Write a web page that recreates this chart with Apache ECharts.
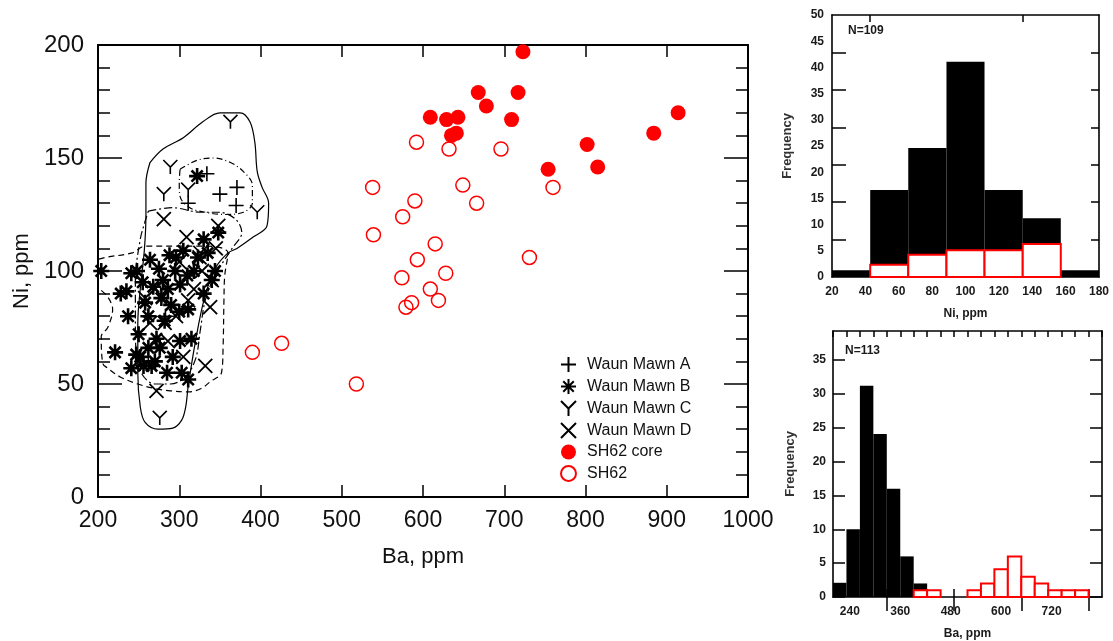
<!DOCTYPE html>
<html><head><meta charset="utf-8">
<script src="https://cdn.jsdelivr.net/npm/echarts@6/dist/echarts.min.js"></script>
<style>html,body{margin:0;padding:0;background:#fff}#c{width:1113px;height:641px}</style>
</head><body><div id="c"></div>
<script>
// ---------- scatter data (Ba ppm, Ni ppm) ----------
const waunMawnA = [[371,137],[370,129],[350,134],[311,130],[334,143],[283,80],[262,60]];
const waunMawnB = [[204,100],[241,99],[235,91],[237,80],[221,64],[247,63],[256,58],[241,57],[266,58],[272,70],[301,69],[303,55],[276,66],[288,107],[264,105],[268,93],[286,92],[301,94],[258,86],[311,83],[340,96],[344,100],[323,106],[322,142],[348,117],[330,114],[282,78],[311,52],[250,72],[262,66],[280,96],[295,100],[310,98],[275,101],[290,85],[255,95],[262,80],[300,82],[330,90],[318,100],[270,60],[292,62],[285,55],[248,100],[228,90],[335,108],[305,109],[278,88],[296,106],[252,62],[315,70]];
const waunMawnC = [[363,166],[289,146],[281,134],[311,136],[396,126],[326,108],[276,35]];
const waunMawnD = [[281,123],[309,115],[348,120],[264,77],[332,58],[272,47],[338,84],[282,77],[311,87],[286,69],[340,96],[328,100],[300,104],[318,92],[258,88],[296,80],[325,106],[305,62],[270,92],[345,110]];
const sh62Core = [[723,197],[668,179],[678,173],[717,179],[609,168],[629,167],[643,168],[635,160],[641,161],[709,167],[802,156],[754,145],[815,146],[884,161],[914,170]];
const sh62 = [[592,157],[632,154],[696,154],[538,137],[649,138],[760,137],[590,131],[666,130],[575,124],[539,116],[615,112],[593,105],[731,106],[574,97],[628,99],[609,92],[586,86],[619,87],[579,84],[518,50],[390,64],[426,68]];

// ---------- envelope outlines (Ba ppm, Ni ppm) ----------
const envelopeC = [[264,148],[280,154],[305,159],[329,166],[350,170],[375,170],[387,166],[393,157],[396,144],[402,137],[410,130],[408,120],[391,115],[371,110],[360,108],[344,101],[331,88],[320,69],[311,49],[308,40],[303,34],[292,30.5],[274,30],[258,33],[252,40],[249,55],[249,77],[252,92],[257,109],[259,125],[259,139],[264,148]];
const envelopeA = [[301,145],[322,149],[342,150],[363,148],[379,144],[390,138],[390,130],[379,126],[356,125],[332,126],[313,128],[301,133],[300,139],[301,145]];
const envelopeB = [[189,104],[209,106],[242,108],[258,111],[300,111],[335,111],[360,108],[356,98],[355,87],[354,67],[352,55],[338,51],[327,48],[311,46.5],[289,47],[270,48],[249,50],[228,53],[212,57],[206,59],[204,71],[212,75],[218,83],[212,88.5],[197,94],[193,98],[189,104]];
const envelopeD = [[262,126.5],[292,128],[326,126],[348,126],[369,123],[377,117],[365,110],[344,98],[332,87],[326,74],[320,61],[307,53],[289,50],[270,50],[252,56],[246,74],[246,96],[252,114],[258,122],[262,126.5]];

// ---------- histogram data ----------
const niBinEdges = [20, 42.9, 65.7, 88.6, 111.4, 134.3, 157.1, 180];
const niAllCounts = [1.3, 16.6, 24.6, 41.1, 16.6, 11.2, 1.3];
const niSH62Counts = [0, 2.35, 4.25, 5.1, 5.1, 6.3, 0];
const baBinEdges = [200,232,264,296,328,360,392,424,456,488,520,552,584,616,648,680,712,744,776,808,840];
const baAllCounts = [2.1,10,31.2,24.1,16,6,2,0,0,0,0,0,0,0,0,0,0,0,0,0];
const baSH62Counts = [0,0,0,0,0,0,1,1,0,0,1,2,4.1,6,3,2,1,1,1,0];

// ---------- tick labels ----------
const niFreqLabels = [0,5,10,15,20,25,30,35,40,45,50];
const niFreqTicks = [7.14,14.29,21.43,28.57,35.71,42.86];
const niLabels = [20,40,60,80,100,120,140,160,180];
const niTopTicks = [42.9,134.3];
const baFreqLabels = [0,5,10,15,20,25,30,35];
const baLabels = [240,360,480,600,720];
const baMajorTicks = [328,488,648,808];

const FONT = 'Liberation Sans';
const smallLbl = {fontSize:12, fontWeight:'bold', color:'#1a1a1a', fontFamily:FONT};
const plain = v => String(v);

function histData(edges, counts){ return counts.map((c,i)=>[edges[i], edges[i+1], c]); }
function barRender(fill, stroke, lw){
  return function(params, api){
    if (api.value(2) <= 0) return null;
    const a = api.coord([api.value(0), 0]);
    const b = api.coord([api.value(1), api.value(2)]);
    return {type:'rect', shape:{x:a[0], y:b[1], width:b[0]-a[0], height:a[1]-b[1]},
            style:{fill:fill, stroke:stroke, lineWidth:lw}};
  };
}
const frameLine = {show:true, onZero:false, lineStyle:{color:'#000', width:2}};
const hFrame = {show:true, onZero:false, lineStyle:{color:'#000', width:1.6}};

const SYM_PLUS = 'path://M5,0L5,10M0,5L10,5';
const SYM_AST = 'path://M5,0L5,10M0,5L10,5M1.5,1.5L8.5,8.5M8.5,1.5L1.5,8.5';
const SYM_Y = 'path://M0,0L5,5L10,0M5,5L5,10';
const SYM_X = 'path://M0,0L10,10M10,0L0,10';
const NOFILL = 'rgba(255,255,255,0)';

function env(data, type){
  return {type:'line', xAxisIndex:0, yAxisIndex:0, data:data, symbol:'none', smooth:0.35, clip:false, silent:true,
          lineStyle:{color:'#000', width:1.2, type:type}, z:1};
}
function sc(name, data, symbol, size, color, border, bw){
  return {name:name, type:'scatter', xAxisIndex:0, yAxisIndex:0, data:data, symbol:symbol, symbolSize:size, z:3,
          itemStyle:{color:color, borderColor:border, borderWidth:bw, opacity:1}};
}

const chart = echarts.init(document.getElementById('c'), null, {renderer:'canvas'});
chart.setOption({
  animation:false,
  backgroundColor:'#fff',
  textStyle:{fontFamily:FONT},
  grid:[
    {left:98, top:45, width:650, height:452},
    {left:832, top:15, width:267, height:262},
    {left:833, top:331, width:269, height:267}
  ],
  xAxis:[
    {gridIndex:0, type:'value', position:'bottom', min:200, max:1000, interval:100, axisLine:frameLine,
     axisTick:{inside:true, length:12, lineStyle:{width:1.5, color:'#000'}}, splitLine:{show:false},
     axisLabel:{fontSize:23, color:'#111', margin:12, fontFamily:FONT, formatter:plain},
     name:'Ba, ppm', nameLocation:'middle', nameGap:49, nameTextStyle:{fontSize:22, color:'#111', fontFamily:FONT}},
    {gridIndex:0, type:'value', position:'top', min:200, max:1000, interval:100, axisLine:frameLine,
     axisTick:{inside:true, length:12, lineStyle:{width:1.5, color:'#000'}}, splitLine:{show:false}, axisLabel:{show:false}},
    {gridIndex:1, type:'value', position:'bottom', min:20, max:180, interval:20, axisLine:hFrame,
     axisTick:{show:false}, splitLine:{show:false}, axisLabel:Object.assign({margin:9, customValues:niLabels}, smallLbl),
     name:'Ni, ppm', nameLocation:'middle', nameGap:31, nameTextStyle:smallLbl},
    {gridIndex:1, type:'value', position:'top', min:20, max:180, axisLine:hFrame,
     axisTick:{inside:true, length:7, customValues:niTopTicks, lineStyle:{width:1.5, color:'#000'}}, splitLine:{show:false}, axisLabel:{show:false}},
    {gridIndex:2, type:'value', position:'bottom', min:200, max:840, axisLine:hFrame,
     axisTick:{inside:true, length:8, customValues:baMajorTicks, lineStyle:{width:1.5, color:'#000'}}, splitLine:{show:false},
     axisLabel:Object.assign({margin:9, customValues:baLabels}, smallLbl),
     name:'Ba, ppm', nameLocation:'middle', nameGap:31, nameTextStyle:smallLbl},
    {gridIndex:2, type:'value', position:'top', min:200, max:840, axisLine:hFrame,
     axisTick:{inside:true, length:6, customValues:baBinEdges, lineStyle:{width:1.5, color:'#000'}}, splitLine:{show:false}, axisLabel:{show:false}},
    {gridIndex:2, type:'value', position:'top', min:200, max:840, axisLine:{show:false},
     axisTick:{inside:true, length:14, customValues:baMajorTicks, lineStyle:{width:1.5, color:'#000'}}, splitLine:{show:false}, axisLabel:{show:false}}
  ],
  yAxis:[
    {gridIndex:0, type:'value', position:'left', min:0, max:200, interval:50, axisLine:frameLine,
     axisTick:{inside:true, length:24, lineStyle:{width:1.5, color:'#000'}},
     minorTick:{show:true, splitNumber:5, length:12, lineStyle:{width:1.5, color:'#000'}}, splitLine:{show:false},
     axisLabel:{fontSize:24, color:'#111', margin:14, fontFamily:FONT},
     name:'Ni, ppm', nameLocation:'middle', nameGap:60, nameTextStyle:{fontSize:22, color:'#111', fontFamily:FONT}},
    {gridIndex:0, type:'value', position:'right', min:0, max:200, interval:50, axisLine:frameLine,
     axisTick:{inside:true, length:24, lineStyle:{width:1.5, color:'#000'}},
     minorTick:{show:true, splitNumber:5, length:12, lineStyle:{width:1.5, color:'#000'}}, splitLine:{show:false}, axisLabel:{show:false}},
    {gridIndex:1, type:'value', position:'left', min:0, max:50, axisLine:hFrame,
     axisTick:{inside:true, length:14, customValues:niFreqTicks, lineStyle:{width:1.5, color:'#000'}}, splitLine:{show:false},
     axisLabel:Object.assign({margin:8, customValues:niFreqLabels}, smallLbl),
     name:'Frequency', nameLocation:'middle', nameGap:38, nameTextStyle:Object.assign({}, smallLbl, {fontSize:13, color:'#333'})},
    {gridIndex:1, type:'value', position:'right', min:0, max:50, axisLine:hFrame,
     axisTick:{inside:true, length:8, customValues:niFreqTicks, lineStyle:{width:1.5, color:'#000'}}, splitLine:{show:false}, axisLabel:{show:false}},
    {gridIndex:2, type:'value', position:'left', min:0, max:39.3, axisLine:hFrame,
     axisTick:{inside:true, length:12, customValues:baFreqLabels, lineStyle:{width:1.5, color:'#000'}}, splitLine:{show:false},
     axisLabel:Object.assign({margin:7, customValues:baFreqLabels}, smallLbl),
     name:'Frequency', nameLocation:'middle', nameGap:36, nameTextStyle:Object.assign({}, smallLbl, {fontSize:13, color:'#333'})},
    {gridIndex:2, type:'value', position:'right', min:0, max:39.3, axisLine:hFrame,
     axisTick:{inside:true, length:12, customValues:baFreqLabels, lineStyle:{width:1.5, color:'#000'}}, splitLine:{show:false}, axisLabel:{show:false}}
  ],
  legend:{
    data:['Waun Mawn A','Waun Mawn B','Waun Mawn C','Waun Mawn D','SH62 core','SH62'],
    orient:'vertical', left:555, top:351, itemWidth:15, itemHeight:15, itemGap:5,
    textStyle:{fontSize:16, color:'#111', fontFamily:FONT, padding:[0,0,0,6]}
  },
  graphic:[
    {type:'text', left:848, top:25, style:{text:'N=109', font:'bold 12px "Liberation Sans"', fill:'#1a1a1a'}},
    {type:'text', left:845, top:345, style:{text:'N=113', font:'bold 12px "Liberation Sans"', fill:'#1a1a1a'}}
  ],
  series:[
    env(envelopeC, 'solid'),
    env(envelopeA, [6,3,1,3]),
    env(envelopeB, [6,4]),
    env(envelopeD, [8,3,2,3]),
    sc('Waun Mawn A', waunMawnA, SYM_PLUS, 15, NOFILL, '#000', 1.6),
    sc('Waun Mawn B', waunMawnB, SYM_AST, 16, NOFILL, '#000', 2.6),
    sc('Waun Mawn C', waunMawnC, SYM_Y, 14, NOFILL, '#000', 1.6),
    sc('Waun Mawn D', waunMawnD, SYM_X, 14, NOFILL, '#000', 1.8),
    sc('SH62 core', sh62Core, 'circle', 15, '#ff0000', '#ff0000', 0),
    sc('SH62', sh62, 'circle', 14, NOFILL, '#ff0000', 1.5),
    {type:'custom', xAxisIndex:2, yAxisIndex:2, renderItem:barRender('#000', null, 0), data:histData(niBinEdges, niAllCounts), encode:{x:[0,1], y:2}, silent:true},
    {type:'custom', xAxisIndex:2, yAxisIndex:2, renderItem:barRender('#fff', '#ff0000', 2), data:histData(niBinEdges, niSH62Counts), encode:{x:[0,1], y:2}, silent:true},
    {type:'custom', xAxisIndex:4, yAxisIndex:4, renderItem:barRender('#000', null, 0), data:histData(baBinEdges, baAllCounts), encode:{x:[0,1], y:2}, silent:true},
    {type:'custom', xAxisIndex:4, yAxisIndex:4, renderItem:barRender('#fff', '#ff0000', 2), data:histData(baBinEdges, baSH62Counts), encode:{x:[0,1], y:2}, silent:true}
  ]
});
</script></body></html>
